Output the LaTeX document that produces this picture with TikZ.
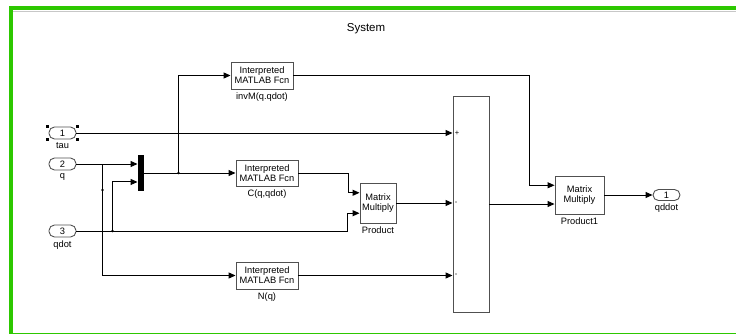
\documentclass[tikz,border=0pt]{standalone}
\usepackage{fontspec}
\setmainfont{Liberation Sans}
\usetikzlibrary{arrows.meta,calc}
\definecolor{framegreen}{RGB}{45,200,0}
\definecolor{blockedge}{RGB}{80,80,80}
\begin{document}
\begin{tikzpicture}[x=1pt,y=-1pt,
  blk/.style={draw=blockedge,line width=0.9pt,fill=white,inner sep=0pt,align=center,font=\fontsize{9.3}{10}\selectfont},
  fcn/.style={blk,minimum width=62pt,minimum height=27pt},
  mult/.style={blk,minimum width=36pt,minimum height=40pt},
  port/.style={draw=blockedge,line width=0.9pt,rounded corners=5.5pt,minimum width=27pt,minimum height=12pt,inner sep=0pt,font=\fontsize{9.3}{10}\selectfont},
  lbl/.style={inner sep=0pt,font=\fontsize{9.3}{10}\selectfont,anchor=north},
  wire/.style={line width=1pt,-{Triangle[length=7pt,width=6pt]}},
  junction/.style={circle,fill=black,inner sep=0pt,minimum size=2.8pt},
  handle/.style={fill=black,inner sep=0pt,minimum size=3pt},
  sgn/.style={inner sep=0pt,font=\fontsize{7.5}{7.5}\selectfont,anchor=west}]
\useasboundingbox (0,0) rectangle (736,335);

% window frame
\draw[black!22,line width=1pt] (13,11.5) -- (740,11.5);
\draw[framegreen,line width=4pt] (11,334) -- (11,8) -- (740,8);
\draw[framegreen,line width=1.5pt] (9,333.5) -- (740,333.5);

\node[font=\fontsize{11.5}{12}\selectfont] (title) at (366,28.5) {System};

% inports / outport
\node[port] (tau) at (62.5,133) {1};
\node[port] (q) at (62.5,164) {2};
\node[port] (qd) at (62.5,231) {3};
\node[port,minimum height=11pt] (out) at (666.5,195) {1};
\node[lbl] (tauL) at ($(tau.south)+(0,3)$) {tau};
\node[lbl] (qL) at ($(q.south)+(0,3)$) {q};
\node[lbl] (qdL) at ($(qd.south)+(0,3)$) {qdot};
\node[lbl] (outL) at ($(out.south)+(0,3)$) {qddot};

% selection handles on tau
\node[handle] (h1) at ($(tau.north west)+(-1,0)$) {};
\node[handle] (h2) at ($(tau.north east)+(1,0)$) {};
\node[handle] (h3) at ($(tau.south west)+(-1,0)$) {};
\node[handle] (h4) at ($(tau.south east)+(1,0)$) {};

% blocks
\node[blk,fill=black,draw=black,minimum width=5pt,minimum height=35pt] (mux) at (140.5,173) {};
\node[fcn] (invM) at (262,75.5) {Interpreted\\MATLAB Fcn};
\node[fcn,minimum height=26pt] (Cf) at (267,173) {Interpreted\\MATLAB Fcn};
\node[fcn] (Nf) at (267,275.5) {Interpreted\\MATLAB Fcn};
\node[mult] (prod) at (378,203) {Matrix\\Multiply};
\node[blk,minimum width=36pt,minimum height=216pt] (sum) at (471,204) {};
\node[mult,minimum width=49pt,minimum height=38pt] (prod1) at (579.5,195) {Matrix\\Multiply};

\node[lbl] (invML) at ($(invM.south)+(0,3.5)$) {invM(q.qdot)};
\node[lbl] (CL) at ($(Cf.south)+(0,3.5)$) {C(q,qdot)};
\node[lbl] (NL) at ($(Nf.south)+(0,3.5)$) {N(q)};
\node[lbl] (prodL) at ($(prod.south)+(0,3.5)$) {Product};
\node[lbl] (prod1L) at ($(prod1.south)+(0,3.5)$) {Product1};

% input ports of multi-input blocks
\coordinate (mux-in2) at ($(mux.north west)!0.75!(mux.south west)$);
\coordinate (prod-in1) at ($(prod.north west)!0.25!(prod.south west)$);
\coordinate (prod-in2) at ($(prod.north west)!0.75!(prod.south west)$);
\coordinate (p1-in1) at ($(prod1.north west)!0.25!(prod1.south west)$);

% sum signs
\node[sgn] (s1) at ($(sum.west |- tau.east)+(2,0)$) {+};
\node[sgn] (s2) at ($(sum.west |- prod.east)+(2,0)$) {-};
\node[sgn] (s3) at ($(sum.west |- Nf.east)+(2,0)$) {-};

% signal lines
\draw[wire] (tau.east) -- (tau.east -| sum.west);
\draw[wire] (q.east) -- (q.east -| mux.west);
\path (q.east) ++(26,0) coordinate (qsplit);
\draw[wire] (qsplit) |- (Nf.west);
\node[junction] (qmark) at ($(qsplit)+(0,26)$) {};

\draw[wire] (qd.east) -- ++(271,0) |- (prod-in2);
\path (qd.east) ++(36,0) coordinate (qdsplit);
\node[junction] (qdmark) at (qdsplit) {};
\draw[wire] (qdsplit) |- (mux-in2);

\draw[wire] (mux.east) -- (Cf.west);
\path (mux.east) ++(35,0) coordinate (msplit);
\node[junction] (mmark) at (msplit) {};
\draw[wire] (msplit) |- (invM.west);

\draw[wire] (Cf.east) -- ++(50,0) |- (prod-in1);
\draw[wire] (prod.east) -- (prod.east -| sum.west);
\draw[wire] (Nf.east) -- (Nf.east -| sum.west);
\draw[wire] (invM.east) -- ++(236,0) |- (p1-in1);
\draw[wire] (sum.east) -- (sum.east -| prod1.west);
\draw[wire] (prod1.east) -- (out.west);
\end{tikzpicture}
\end{document}
